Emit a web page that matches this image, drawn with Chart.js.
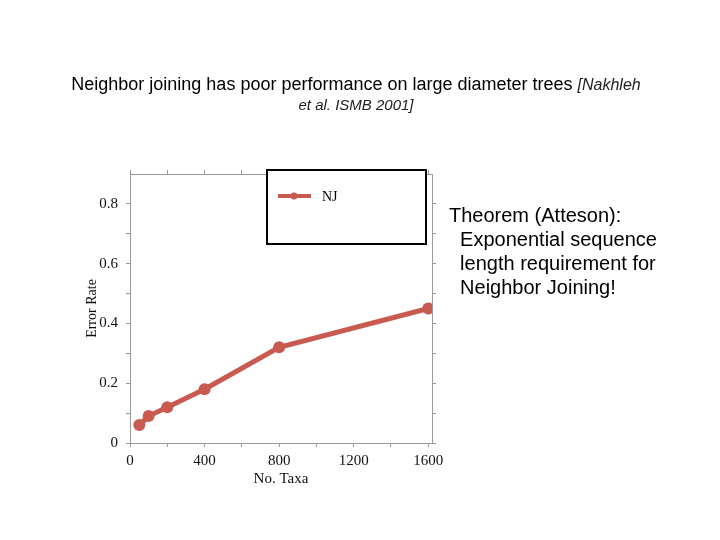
<!DOCTYPE html>
<html>
<head>
<meta charset="utf-8">
<script src="https://cdn.jsdelivr.net/npm/chart.js@4/dist/chart.umd.min.js"></script>
<style>
  body { margin: 0; background: #fff; }
  #wrap { position: relative; width: 720px; height: 540px; overflow: hidden; }
  #myChart { position: absolute; left: 0; top: 0; }
  .txt { position: absolute; font-family: "Liberation Sans", Arial, sans-serif; color: #000; white-space: nowrap; }
  #title1 { left: 0; width: 712px; top: 74px; text-align: center; font-size: 18px; }
  #title2 { left: 0; width: 712px; top: 96px; text-align: center; font-size: 15px; font-style: italic; color: #222; }
  #theorem { left: 449px; top: 203px; font-size: 20px; line-height: 24px; }
</style>
</head>
<body>
<div id="wrap">
  <canvas id="myChart" width="720" height="540"></canvas>
  <div class="txt" id="title1">Neighbor joining has poor performance on large diameter trees <i style="font-size:16px;color:#222">[Nakhleh</i></div>
  <div class="txt" id="title2">et al. ISMB 2001]</div>
  <div class="txt" id="theorem">Theorem (Atteson):<br>&nbsp;&nbsp;Exponential sequence<br>&nbsp;&nbsp;length requirement for<br>&nbsp;&nbsp;Neighbor Joining!</div>
</div>
<script>
var taxa = [50, 100, 200, 400, 800, 1600];
var njError = [0.06, 0.09, 0.12, 0.18, 0.32, 0.45];
var xTickLabels = [0, 400, 800, 1200, 1600];
var yTickLabels = [0, 0.2, 0.4, 0.6, 0.8];

var lineColor = 'rgb(200, 90, 80)';
var axisGray = '#9a9a9a';
var serif = '"Liberation Serif", "Times New Roman", serif';

// legend box drawn by hand, sits over the top right of the plot
var legendBox = {
    id: 'legendBox',
    afterDraw: function (chart) {
        var ctx = chart.ctx;
        var ds = chart.data.datasets[0];
        ctx.save();
        ctx.fillStyle = '#fff';
        ctx.fillRect(267, 170, 159, 74);
        ctx.strokeStyle = '#000';
        ctx.lineWidth = 2;
        ctx.strokeRect(267, 170, 159, 74);
        ctx.strokeStyle = ds.borderColor;
        ctx.lineWidth = 4;
        ctx.beginPath();
        ctx.moveTo(278, 196);
        ctx.lineTo(311, 196);
        ctx.stroke();
        ctx.fillStyle = ds.borderColor;
        ctx.beginPath();
        ctx.arc(294, 196, 3.5, 0, Math.PI * 2);
        ctx.fill();
        ctx.fillStyle = '#000';
        ctx.font = '14px ' + serif;
        ctx.textBaseline = 'middle';
        ctx.fillText(ds.label, 322, 197);
        ctx.restore();
    }
};

function drawChart() {
    var pts = [];
    for (let i = 0; i < taxa.length; i++) {
        pts.push({x: taxa[i], y: njError[i]});
    }

    var ctx = document.getElementById('myChart');
    var myChart = new Chart(ctx, {
        type: 'line',
        data: {
            datasets: [{
                label: 'NJ',
                data: pts,
                borderColor: lineColor,
                backgroundColor: lineColor,
                borderWidth: 5,
                pointRadius: 6,
                pointBackgroundColor: lineColor,
                pointBorderWidth: 0,
                tension: 0
            }]
        },
        options: {
            responsive: false,
            animation: false,
            devicePixelRatio: 1,
            layout: {padding: {left: 84, right: 283, top: 169, bottom: 52}},
            plugins: {legend: {display: false}, tooltip: {enabled: false}},
            scales: {
                x: {
                    type: 'linear', position: 'bottom', min: 0, max: 1620,
                    afterFit: function (s) { s.height = 45; },
                    afterBuildTicks: function (s) {
                        s.ticks = [];
                        for (let v = 0; v <= 1600; v += 200) s.ticks.push({value: v});
                    },
                    ticks: {
                        color: '#111', padding: 5, maxRotation: 0, autoSkip: false,
                        font: {family: serif, size: 15},
                        callback: function (v) { return xTickLabels.indexOf(v) >= 0 ? String(v) : ''; }
                    },
                    grid: {drawOnChartArea: false, color: axisGray, tickLength: 4},
                    border: {color: axisGray, width: 1},
                    title: {display: true, text: 'No. Taxa', color: '#111', font: {family: serif, size: 15}, padding: 0}
                },
                x2: {
                    type: 'linear', position: 'top', min: 0, max: 1620,
                    afterFit: function (s) { s.height = 5; },
                    afterBuildTicks: function (s) {
                        s.ticks = [];
                        for (let v = 0; v <= 1600; v += 200) s.ticks.push({value: v});
                    },
                    ticks: {display: false},
                    grid: {drawOnChartArea: false, color: axisGray, tickLength: 4},
                    border: {color: axisGray, width: 1}
                },
                y: {
                    type: 'linear', position: 'left', min: 0, max: 0.9,
                    afterFit: function (s) { s.width = 46; },
                    afterBuildTicks: function (s) {
                        s.ticks = [];
                        for (let i = 0; i <= 8; i++) s.ticks.push({value: i / 10});
                    },
                    ticks: {
                        color: '#111', padding: 8, autoSkip: false,
                        font: {family: serif, size: 15},
                        callback: function (v) {
                            var r = Math.round(v * 10) / 10;
                            return yTickLabels.indexOf(r) >= 0 ? String(r) : '';
                        }
                    },
                    grid: {drawOnChartArea: false, color: axisGray, tickLength: 4},
                    border: {color: axisGray, width: 1},
                    title: {display: true, text: 'Error Rate', color: '#111', font: {family: serif, size: 14}, padding: 0}
                },
                y2: {
                    type: 'linear', position: 'right', min: 0, max: 0.9,
                    afterFit: function (s) { s.width = 5; },
                    afterBuildTicks: function (s) {
                        s.ticks = [];
                        for (let i = 0; i <= 8; i++) s.ticks.push({value: i / 10});
                    },
                    ticks: {display: false},
                    grid: {drawOnChartArea: false, color: axisGray, tickLength: 4},
                    border: {color: axisGray, width: 1}
                }
            }
        },
        plugins: [legendBox]
    });
}

drawChart();
</script>
</body>
</html>
